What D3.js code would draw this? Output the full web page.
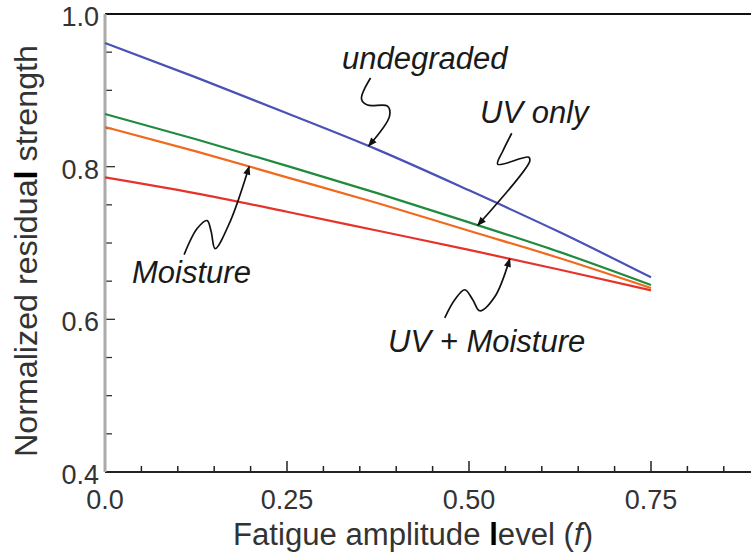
<!DOCTYPE html>
<html lang="en">
<head>
  <meta charset="UTF-8">
  <title>Residual strength vs fatigue amplitude</title>
  <style>
    body { margin: 0; background: #fff; }
    svg { display: block; font-family: "Liberation Sans", Arial, sans-serif; }
  </style>
</head>
<body>
  <svg id="chart" width="751" height="552"></svg>

  <script src="https://d3js.org/d3.v7.min.js"></script>
  <script>
    // fatigue amplitude level f
    const fLevels = [0, 0.125, 0.25, 0.375, 0.5, 0.625, 0.75];

    // normalized residual strength per condition
    const undegraded = [0.962, 0.917, 0.870, 0.822, 0.769, 0.714, 0.655];
    const uvOnly = [0.869, 0.836, 0.801, 0.765, 0.727, 0.688, 0.645];
    const moisture = [0.852, 0.820, 0.786, 0.752, 0.716, 0.680, 0.641];
    const uvMoisture = [0.786, 0.765, 0.741, 0.716, 0.691, 0.665, 0.638];

    const seriesNames = ["undegraded", "UV only", "Moisture", "UV + Moisture"];
    const seriesValues = [undegraded, uvOnly, moisture, uvMoisture];
    const seriesColors = ["#4a52b6", "#1f8b3e", "#f2691e", "#e5332b"];

    const xTickValues = [0, 0.25, 0.5, 0.75];
    const xTickLabels = ["0.0", "0.25", "0.50", "0.75"];
    const yTickValues = [0.4, 0.6, 0.8, 1.0];
    const yTickLabels = ["0.4", "0.6", "0.8", "1.0"];

    // where each arrow hits its curve (f value)
    const arrowTipF = [0.362, 0.512, 0.198, 0.556];

    // annotation layout (pixels) - squiggle offsets from the tip, label anchor
    const squiggles = [
      [[2, -68], [-7, -47], [-1, -41], [19, -40], [21, -30], [0, 0]],
      [[34, -92], [25, -74], [20, -61], [51, -68], [52, -64], [0, 0]],
      [[-65, 88], [-52, 62], [-42, 54], [-38, 65], [-34, 82], [-19, 55], [0, 0]],
      [[-65, 59], [-55, 41], [-45, 31], [-37, 41], [-30, 52], [-15, 38], [0, 0]]
    ];
    const labelPos = [[342, 69], [480, 123], [132, 283], [388, 352]];

    const W = 751, H = 552;
    const plotLeft = 105, plotTop = 14, plotBottom = 472;

    const svg = d3.select("#chart");

    const x = d3.scaleLinear().domain([0, 0.75]).range([plotLeft, 651]);
    const y = d3.scaleLinear().domain([0.4, 1.0]).range([plotBottom, plotTop]);

    // minor ticks
    const xMinor = d3.range(0.05, 0.9, 0.05).filter(v => x(v) < W);
    svg.append("g").selectAll("line").data(xMinor).join("line")
      .attr("x1", d => x(d)).attr("x2", d => x(d))
      .attr("y1", plotBottom).attr("y2", d => xTickValues.some(t => Math.abs(t - d) < 1e-6) ? plotBottom - 11 : plotBottom - 6)
      .attr("stroke", "#222").attr("stroke-width", 1.5);

    const yMinor = d3.range(0.45, 1.0, 0.05);
    svg.append("g").selectAll("line").data(yMinor).join("line")
      .attr("x1", plotLeft).attr("x2", d => Math.abs(d - 0.6) < 1e-6 || Math.abs(d - 0.8) < 1e-6 ? plotLeft + 10 : plotLeft + 7)
      .attr("y1", d => y(d)).attr("y2", d => y(d))
      .attr("stroke", "#333").attr("stroke-width", 1.3);

    // frame: top black, bottom black, left gray
    svg.append("line").attr("x1", plotLeft).attr("x2", W).attr("y1", y(1.0)).attr("y2", y(1.0))
      .attr("stroke", "#111").attr("stroke-width", 2);
    svg.append("line").attr("x1", plotLeft).attr("x2", W).attr("y1", plotBottom).attr("y2", plotBottom)
      .attr("stroke", "#222").attr("stroke-width", 2);
    svg.append("line").attr("x1", plotLeft).attr("x2", plotLeft).attr("y1", y(1.0)).attr("y2", plotBottom)
      .attr("stroke", "#aaa").attr("stroke-width", 3);

    // tick labels
    svg.append("g").selectAll("text").data(xTickValues).join("text")
      .attr("x", d => x(d)).attr("y", 509)
      .attr("text-anchor", "middle").attr("font-size", 27).attr("fill", "#333")
      .text((d, i) => xTickLabels[i]);

    svg.append("g").selectAll("text").data(yTickValues).join("text")
      .attr("x", 99).attr("y", d => y(d) + 12)
      .attr("text-anchor", "end").attr("font-size", 27).attr("fill", "#333")
      .text((d, i) => yTickLabels[i]);

    // axis titles
    const xt = svg.append("text").attr("x", 413).attr("y", 545)
      .attr("text-anchor", "middle").attr("font-size", 31).attr("fill", "#333")
      .attr("textLength", 360).attr("lengthAdjust", "spacingAndGlyphs");
    xt.append("tspan").text("Fatigue amplitude ");
    xt.append("tspan").attr("font-weight", "bold").attr("fill", "#000").text("l");
    xt.append("tspan").text("evel (");
    xt.append("tspan").attr("font-style", "italic").text("f");
    xt.append("tspan").text(")");

    const yt = svg.append("text")
      .attr("transform", "translate(37,251) rotate(-90)")
      .attr("text-anchor", "middle").attr("font-size", 31).attr("fill", "#333")
      .attr("textLength", 412).attr("lengthAdjust", "spacingAndGlyphs");
    yt.append("tspan").text("Normalized residua");
    yt.append("tspan").attr("font-weight", "bold").attr("fill", "#000").text("l");
    yt.append("tspan").text(" strength");

    // curves
    const line = d3.line()
      .x((d, i) => x(fLevels[i]))
      .y(d => y(d))
      .curve(d3.curveMonotoneX);

    svg.append("g").selectAll("path").data(seriesValues).join("path")
      .attr("d", line)
      .attr("fill", "none")
      .attr("stroke", (d, i) => seriesColors[i])
      .attr("stroke-width", 2.2);

    // arrowhead
    svg.append("defs").append("marker")
      .attr("id", "head").attr("viewBox", "0 -5 10 10")
      .attr("refX", 9).attr("refY", 0)
      .attr("markerWidth", 12).attr("markerHeight", 9)
      .attr("markerUnits", "userSpaceOnUse")
      .attr("orient", "auto")
      .append("path").attr("d", "M0,-4L10,0L0,4Z").attr("fill", "#111");

    const valueAt = (vals, f) => d3.scaleLinear().domain(fLevels).range(vals)(f);

    const squig = d3.line().curve(d3.curveCatmullRom.alpha(0.5));
    seriesValues.forEach((vals, i) => {
      const tx = x(arrowTipF[i]), ty = y(valueAt(vals, arrowTipF[i]));
      svg.append("path")
        .attr("d", squig(squiggles[i].map(p => [tx + p[0], ty + p[1]])))
        .attr("fill", "none").attr("stroke", "#111").attr("stroke-width", 1.7)
        .attr("marker-end", "url(#head)");
      svg.append("text")
        .attr("x", labelPos[i][0]).attr("y", labelPos[i][1])
        .attr("font-size", 31).attr("font-style", "italic").attr("fill", "#1a1a1a")
        .text(seriesNames[i]);
    });
  </script>
</body>
</html>
